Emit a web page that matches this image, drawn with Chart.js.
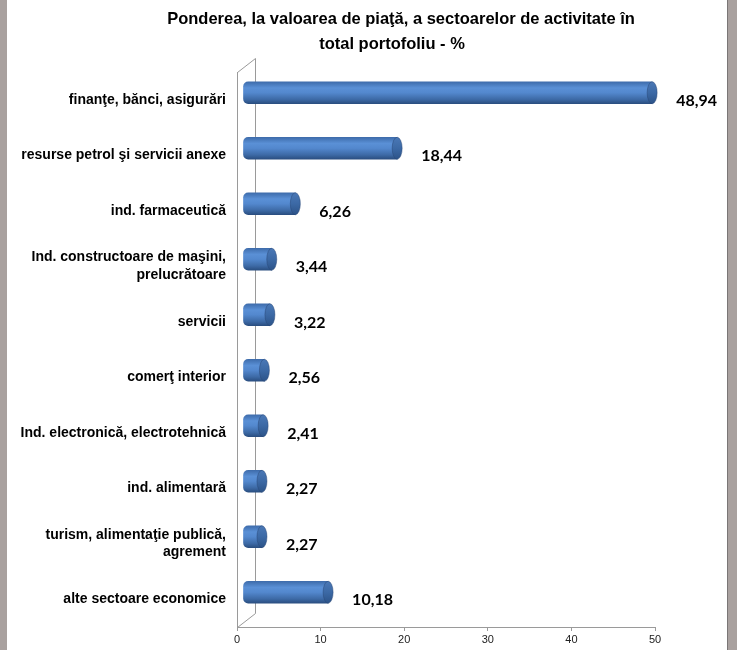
<!DOCTYPE html>
<html>
<head>
<meta charset="utf-8">
<script src="https://cdn.jsdelivr.net/npm/chart.js@4/dist/chart.umd.min.js"></script>
<style>
html,body{margin:0;padding:0;background:#fff;}
#wrap{position:relative;width:737px;height:650px;}
</style>
</head>
<body>
<div id="wrap"><canvas id="c" width="737" height="650"></canvas></div>
<script>
const titleLines = ['Ponderea, la valoarea de piaţă, a sectoarelor de activitate în', 'total portofoliu - %'];
const categories = [
  ['finanţe, bănci, asigurări'],
  ['resurse petrol şi servicii anexe'],
  ['ind. farmaceutică'],
  ['Ind. constructoare de maşini,', 'prelucrătoare'],
  ['servicii'],
  ['comerţ interior'],
  ['Ind. electronică, electrotehnică'],
  ['ind. alimentară'],
  ['turism, alimentaţie publică,', 'agrement'],
  ['alte sectoare economice']
];
const values = [48.94, 18.44, 6.26, 3.44, 3.22, 2.56, 2.41, 2.27, 2.27, 10.18];
const xTicks = [0, 10, 20, 30, 40, 50];

const DX = 6, DY = -7;       // 3D offset of the cylinders
const WX = 18, WY = -14;     // depth of the back wall

function barGradient(ctx) {
  const chart = ctx.chart;
  const ys = chart.scales.y;
  if (!ys || ctx.dataIndex === undefined) return '#4f82c4';
  const cy = ys.getPixelForValue(ctx.dataIndex);
  if (!isFinite(cy)) return '#4f82c4';
  const g = chart.ctx.createLinearGradient(0, cy - 11, 0, cy + 11);
  g.addColorStop(0, '#3e6cab');
  g.addColorStop(0.28, '#5a90d6');
  g.addColorStop(0.5, '#5388ce');
  g.addColorStop(0.8, '#3d6aa6');
  g.addColorStop(1, '#2a4e80');
  return g;
}

const framePlugin = {
  id: 'frame',
  beforeDraw(chart) {
    const c = chart.ctx;
    c.save();
    c.fillStyle = '#ffffff';
    c.fillRect(0, 0, chart.width, chart.height);
    c.fillStyle = '#a9a19f';
    c.fillRect(0, 0, 7, chart.height);
    c.fillRect(728, 0, chart.width - 728, chart.height);
    c.fillStyle = '#7a7676';
    c.fillRect(727, 0, 1, chart.height);
    // title
    c.fillStyle = '#000';
    c.font = 'bold 16.5px "Liberation Sans", Arial, sans-serif';
    c.textAlign = 'center';
    c.textBaseline = 'middle';
    c.fillText(titleLines[0], 401, 19);
    c.fillText(titleLines[1], 392, 44);
    c.restore();
  }
};

const wallPlugin = {
  id: 'wall',
  beforeDatasetsDraw(chart) {
    const c = chart.ctx;
    const a = chart.chartArea;
    c.save();
    c.strokeStyle = '#9a9a9a';
    c.lineWidth = 1;
    c.beginPath();
    c.moveTo(a.left + 0.5, a.top + 0.5);
    c.lineTo(a.left + WX + 0.5, a.top + WY + 0.5);
    c.lineTo(a.left + WX + 0.5, a.bottom + WY + 0.5);
    c.lineTo(a.left + 0.5, a.bottom + 0.5);
    c.stroke();
    c.restore();
    c.save();
    c.translate(DX, DY);
  },
  afterDatasetsDraw(chart) {
    const c = chart.ctx;
    const meta = chart.getDatasetMeta(0);
    meta.data.forEach(el => {
      const h = el.height;
      if (!isFinite(el.x) || !isFinite(el.y) || !isFinite(h)) return;
      const g = c.createLinearGradient(0, el.y - h / 2, 0, el.y + h / 2);
      g.addColorStop(0, '#4a78b6');
      g.addColorStop(0.5, '#3c69a5');
      g.addColorStop(1, '#2c5388');
      c.beginPath();
      c.ellipse(el.x, el.y, 5, h / 2, 0, 0, Math.PI * 2);
      c.fillStyle = g;
      c.fill();
      c.strokeStyle = 'rgba(40,70,115,0.6)';
      c.lineWidth = 0.8;
      c.stroke();
    });
    c.restore();
    // data labels
    const xs = chart.scales.x, ys = chart.scales.y;
    c.save();
    c.fillStyle = '#000';
    c.font = 'bold 16px Lato, "Open Sans", sans-serif';
    c.textAlign = 'left';
    c.textBaseline = 'middle';
    values.forEach((v, i) => {
      c.fillText(v.toFixed(2).replace('.', ','), xs.getPixelForValue(v) + 30, ys.getPixelForValue(i) + 1);
    });
    c.restore();
  }
};

new Chart(document.getElementById('c'), {
  type: 'bar',
  data: {
    labels: categories,
    datasets: [{
      data: values,
      backgroundColor: barGradient,
      borderWidth: 0,
      borderSkipped: false,
      borderRadius: {topLeft: 5, bottomLeft: 5, topRight: 0, bottomRight: 0},
      barThickness: 22,
      clip: false
    }]
  },
  options: {
    indexAxis: 'y',
    responsive: false,
    animation: false,
    devicePixelRatio: 1,
    layout: {padding: {top: 72, right: 82, bottom: 0, left: 0}},
    plugins: {legend: {display: false}, tooltip: {enabled: false}, title: {display: false}},
    scales: {
      x: {
        min: 0, max: 50,
        afterBuildTicks: s => { s.ticks = xTicks.map(v => ({value: v})); },
        afterFit: s => { s.height = 23; },
        grid: {drawOnChartArea: false, drawTicks: true, tickLength: 4, color: '#9a9a9a'},
        border: {display: true, color: '#9a9a9a'},
        ticks: {padding: 2, color: '#222', font: {family: '"Liberation Sans", Arial, sans-serif', size: 11}}
      },
      y: {
        afterFit: s => { s.width = 237; },
        grid: {display: false, drawTicks: false},
        border: {display: true, color: '#9a9a9a'},
        ticks: {padding: 11, color: '#000', font: {family: '"Liberation Sans", Arial, sans-serif', size: 14, weight: 'bold', lineHeight: 1.25}}
      }
    }
  },
  plugins: [framePlugin, wallPlugin]
});
</script>
</body>
</html>
